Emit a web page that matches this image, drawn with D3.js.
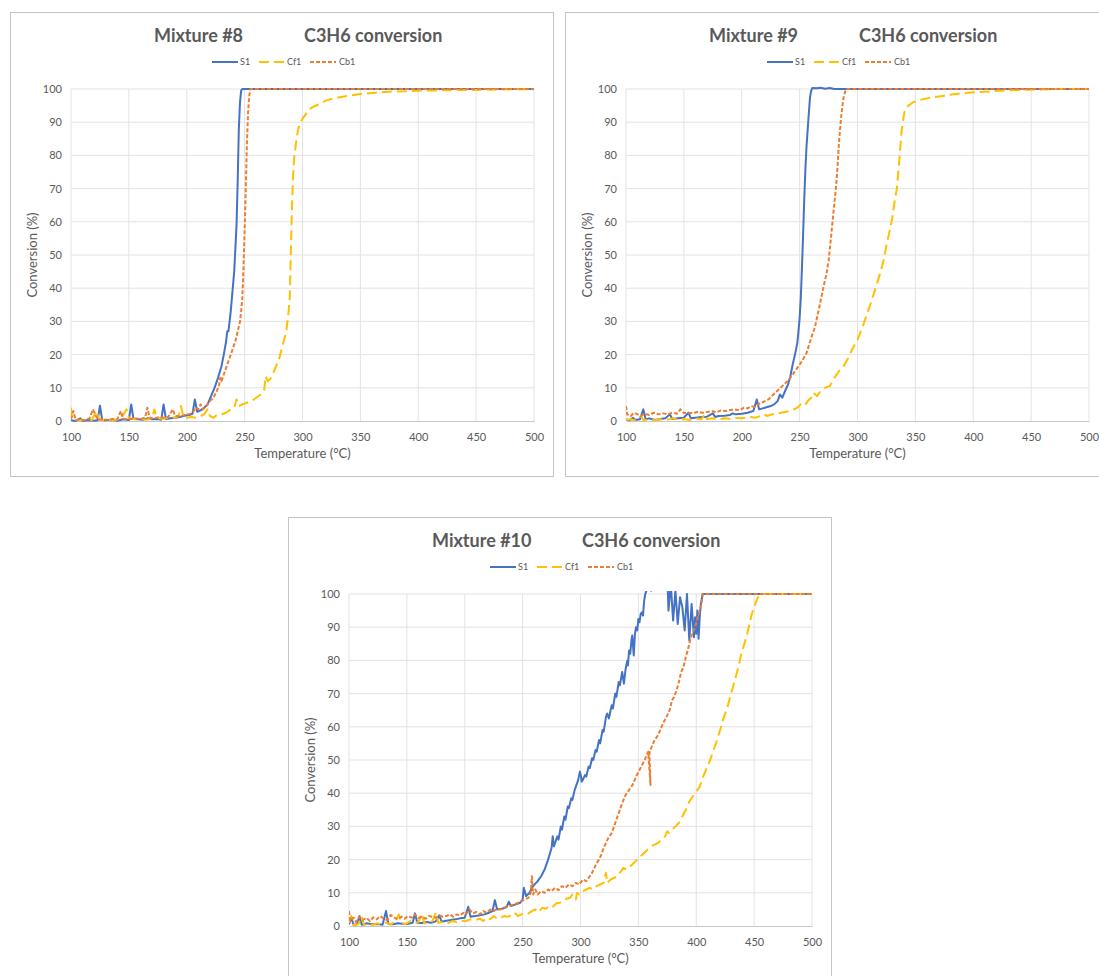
<!DOCTYPE html>
<html>
<head>
<meta charset="utf-8">
<script src="https://cdn.jsdelivr.net/npm/d3@7"></script>
<style>
    body { margin: 0; background: #fff; }
    svg { display: block; font-family: Lato, 'Open Sans', sans-serif; }
</style>
</head>
<body>
<svg id="chart" width="1099" height="976"></svg>
<script>

// axis ticks shared by the three panels
const temperatureTicks = [100, 150, 200, 250, 300, 350, 400, 450, 500]
const conversionTicks = [0, 10, 20, 30, 40, 50, 60, 70, 80, 90, 100]
const seriesNames = ['S1', 'Cf1', 'Cb1']
const mixtureNames = ['Mixture #8', 'Mixture #9', 'Mixture #10']

// Mixture #8 : [temperature °C, conversion %]
const m8S1 = [[100,0.2],[104,0],[108,0.8],[110,0],[115,0.3],[120,0.1],[123,0.2],[125,4.6],[127,0.3],[130,0.2],[135,0.4],[140,0.1],[145,0.5],[150,0.3],[152,5],[154,0.6],[158,0.5],[162,0.4],[166,0.8],[170,0.5],[175,0.6],[178,0.4],[180,5],[182,0.6],[186,0.8],[190,1],[194,1.2],[198,1.6],[202,1.8],[205,2.2],[207,6.5],[209,2.8],[212,3.2],[215,4],[218,5],[221,7.5],[224,10],[227,13],[230,16.5],[232,20],[234,24],[235,27],[236,27],[237,30],[238,33],[239,37],[240,41],[241,45],[242,52],[243,59],[244,72],[245,88],[246,96],[247,99.5],[248,100],[500,100]]
const m8Cf1 = [[100,4],[101,0.5],[105,0.3],[110,0.2],[114,0.5],[118,0.3],[122,3],[124,0.8],[128,0.2],[133,0.4],[138,0.3],[143,0.6],[148,3.5],[150,0.8],[155,0.5],[160,0.6],[165,0.4],[170,0.8],[172,3.5],[174,1],[178,0.7],[182,0.8],[186,1.2],[190,1],[193,1.5],[195,4.5],[197,1.5],[200,1],[204,1.2],[208,1],[212,1.5],[215,2],[218,3.5],[220,1.5],[223,1],[226,1.8],[230,2],[234,2.5],[238,3.5],[241,4],[243,6.5],[245,4.5],[248,5],[252,5.5],[256,6],[260,7],[264,8],[267,9.5],[268,13.5],[270,12],[273,13],[276,15.5],[280,19],[283,23],[286,27],[288,33],[289,37],[290,52],[291,66],[292,75],[293,80],[294.5,84],[296,87.5],[297.5,89.5],[300,91],[303,92.5],[306,94],[310,94.8],[315,95.5],[320,96.5],[325,97],[332,97.5],[340,98],[350,98.5],[360,98.8],[375,99.2],[390,99.3],[400,99.5],[420,99.6],[440,99.7],[460,99.8],[480,99.9],[500,99.9]]
const m8Cb1 = [[100,0.5],[102,3],[104,0.3],[108,0.5],[112,0.2],[116,0.8],[119,3.5],[121,2],[123,0.4],[128,0.5],[132,0.3],[136,0.6],[140,0.5],[143,3],[145,0.7],[150,0.5],[155,0.8],[160,0.6],[164,1],[166,4],[168,1],[172,0.8],[176,1.2],[180,1],[184,1.2],[188,3.5],[190,1.5],[194,1.4],[198,1.8],[202,2],[205,2.5],[208,4],[210,3.5],[212,5],[214,3.5],[217,4.5],[220,6],[223,7],[226,9],[228,11],[229,13],[230,12],[233,15],[236,18],[239,21],[242,24],[244,27],[246,30],[247,33],[248,37],[249,46],[250,57],[251,70],[252,84],[253,93],[254,98],[255,100],[500,100]]

// Mixture #9
const m9S1 = [[100,0.5],[103,0.2],[106,1],[108,0.3],[112,0.5],[115,3.5],[117,0.5],[120,0.8],[125,0.3],[130,0.6],[134,0.8],[138,2],[140,0.6],[145,0.8],[150,1],[154,2.5],[156,0.8],[160,1],[165,1.2],[170,1.3],[175,2.3],[177,1.2],[180,1.5],[185,1.6],[190,1.8],[192,2.3],[195,2],[200,2.2],[205,2.5],[210,3],[213,6.5],[215,3.5],[220,4],[225,4.5],[228,5],[231,6],[233,8],[235,7],[238,9.5],[240,11],[242,13.5],[244,17],[246,20],[248,23.5],[249,27],[250,31],[251,37],[252,46],[253,56],[254,67],[255,76],[256,83],[257,88],[258,93],[259,97.5],[260,99.5],[261,100.3],[265,100.2],[268,100.4],[272,100.1],[276,100.3],[280,100],[500,100]]
const m9Cf1 = [[100,0.3],[104,0.5],[108,0.2],[113,1.5],[115,0.3],[120,0.4],[125,0.2],[130,0.5],[135,0.3],[140,0.8],[145,0.4],[150,0.6],[155,0.3],[160,0.8],[165,0.5],[168,2],[170,0.6],[175,0.8],[180,0.5],[185,0.8],[190,0.6],[195,0.9],[200,0.8],[204,1],[208,1.2],[212,1],[216,1.5],[219,2],[222,1.5],[226,2],[230,2.2],[234,2.5],[238,2.8],[242,3],[245,3.5],[248,4],[251,5],[254,4.5],[257,6],[260,7],[262,8.5],[265,7.5],[268,9],[272,10],[276,10.5],[280,13],[284,15],[288,16.5],[292,19],[296,22],[300,24.5],[304,28],[308,32],[312,36],[316,40.5],[320,45],[323,49],[325,53],[327,56],[330,61],[332,66],[334,70],[336,78],[338,87],[340,92],[341,93.7],[344,95],[348,96],[355,96.8],[365,97.5],[375,98],[385,98.5],[400,99],[415,99.3],[430,99.6],[450,99.8],[470,100],[500,100]]
const m9Cb1 = [[100,4.5],[101,2],[104,1.5],[107,2.5],[110,2],[113,1.5],[116,2.2],[120,1.8],[124,2.5],[128,2],[132,2.3],[136,2],[140,2.5],[144,2.2],[147,3.5],[150,2.4],[154,2.5],[158,2.3],[162,2.8],[166,2.5],[170,2.7],[174,3],[178,2.6],[182,3.2],[186,3],[190,3.3],[194,3.5],[198,3.2],[202,4],[205,3.8],[208,4.5],[211,4.2],[214,5],[217,5.5],[220,6],[223,6.5],[226,7.5],[229,8.5],[232,9.5],[235,10.5],[238,11.5],[241,12.5],[244,14],[248,16],[252,18],[256,20.5],[260,25],[263,28],[265,31],[268,36],[271,41],[273,44],[275,48],[277,55],[279,62],[281,69],[282,73],[283,78],[284,84],[285,88],[286,92],[287,95],[288,97.5],[290,100],[500,100]]

// Mixture #10
const m10S1 = [[100,0.5],[102,2.5],[104,0.3],[107,0.5],[109,3],[111,0.4],[115,0.8],[120,0.5],[125,0.6],[129,0.4],[132,4.5],[134,0.6],[138,0.5],[142,0.8],[146,0.7],[150,0.6],[155,1],[157,3.8],[159,1],[163,0.9],[167,1.2],[171,1],[175,1.4],[178,3.2],[180,1.3],[184,1.6],[188,1.8],[192,2],[196,2.3],[200,2.5],[203,5.8],[205,2.8],[209,3],[213,3.2],[217,3.5],[221,4],[224,4.5],[226,7.8],[228,5],[232,5.2],[236,5.6],[238,7.3],[240,6],[244,6.5],[248,7],[250,8],[251,11.5],[253,9],[256,10],[259,12],[263,13.5],[266,15],[269,17],[272,20],[275,23.5],[276,27],[277,24],[279,26],[280,27],[281,26],[283,30],[284,29],[286,33],[287,32],[289,36],[290,35.5],[292,38.5],[293,38],[295,41],[296,42],[298,44],[299.5,46.5],[300.5,45],[301,43.5],[302,44],[304,45.5],[305,45],[307,48],[308,47.5],[310,50.5],[311,50],[313,53],[314,52.5],[316,56],[317,55],[319,59],[320,58.5],[322,63],[323,64],[324.5,62.5],[326,65],[327,66.5],[328,65.5],[330,70],[331,69],[333,73.5],[334,72.5],[336,76.5],[337.5,73],[339,77.5],[340.5,80],[341,78.5],[342,83],[343,82],[344,86],[344.7,87.5],[346,81.5],[347,88],[348,90],[349,89],[350,92.5],[351,91.5],[352,94],[353,94.5],[354,93.5],[355,98],[356,100],[358,102],[360,104],[361,101],[362,106],[365,108],[370,110],[375,106],[376,95],[378,103],[380,92],[382,101],[384,91],[386,99],[388,96],[390,89],[392,100],[394,86],[396,97],[398,87],[399,93],[400,88],[401,95],[402,86.5],[403,93],[404,97],[405.5,100],[500,100]]
const m10Cf1 = [[100,1],[102,3],[104,0.2],[108,0.5],[111,2.8],[113,0.3],[117,0.6],[120,0.3],[124,0.8],[128,0.5],[132,1],[136,0.4],[140,1.5],[143,3.5],[145,0.8],[149,0.6],[153,1.5],[156,0.8],[160,1.2],[163,3.8],[165,0.8],[169,1],[172,1.5],[175,4],[177,1],[181,1.2],[185,0.8],[189,1.5],[193,1.2],[197,1.6],[201,1.5],[205,2],[209,1.8],[213,2.2],[216,1.5],[219,2.5],[222,2],[225,3],[228,2.2],[231,2.5],[234,3],[237,2.8],[240,3.2],[243,4],[246,3],[249,3.5],[252,4],[255,3.8],[258,4.5],[261,5],[264,4.2],[267,5.5],[270,5.2],[273,6],[276,5.8],[279,6.8],[282,7],[285,7.5],[288,8.2],[291,8.5],[293,9.5],[296,8],[297,10],[299,9.5],[302,10.5],[305,11],[308,11.5],[311,11],[314,12],[317,12.5],[320,13],[322,16],[323,13],[326,14],[329,14.5],[332,15],[335,16.5],[337,17.5],[340,17],[343,18],[346,19],[349,20],[352,21],[355,22],[358,23],[361,24],[364,24.5],[367,25],[370,26],[373,27],[375,28.5],[376.5,28],[379,29],[382,30],[385,31],[388,33],[391,35],[394,37.5],[397,39],[400,40.5],[403,42],[406,45],[409,47.5],[412,50],[415,53],[418,56],[421,59.5],[424,63],[427,66],[430,70],[433,73.5],[436,77.5],[439,82],[442,85.5],[444,88],[446,91],[448,94],[450,96],[452,98],[455,100],[500,100]]
const m10Cb1 = [[100,4.5],[101,1.5],[104,2.5],[106,1.2],[109,2.8],[112,1.8],[115,2.5],[118,1.5],[121,2.6],[124,2],[127,3],[130,2.2],[133,1.8],[136,3.3],[139,2.5],[142,2],[145,2.8],[148,2.2],[151,3],[154,2.5],[157,3.5],[160,2.4],[163,2.8],[166,2.2],[169,3],[172,2.8],[175,2.5],[178,3.2],[181,2.8],[184,3],[187,3.5],[190,2.8],[193,3.5],[196,3.2],[199,4],[201,3.5],[204,5],[207,3.8],[210,4.2],[213,3.5],[216,4.5],[219,4],[222,5],[225,4.5],[228,5.2],[231,5],[234,5.5],[237,6],[240,6.2],[243,6.5],[246,7],[249,7.5],[252,8],[255,8.5],[257,10],[258,15],[259,9.5],[261,11],[263,9.5],[266,10.5],[269,10],[272,11],[275,10.5],[278,11.5],[281,10.8],[284,12],[287,11.5],[290,12.5],[293,12],[296,13],[299,12.5],[302,14],[305,13.5],[308,15],[310,16],[312,17.5],[314,19],[316,20],[318,21.5],[320,23.5],[322,25],[324,26.5],[327,28],[330,31],[333,34],[336,37],[339,39.5],[342,41],[345,42.5],[348,45],[351,47],[354,49],[356,50.5],[358.5,52.5],[360.5,42.5],[359.5,52],[361.5,54],[364,56],[367,57.5],[370,60],[372,61.5],[375,63.5],[377,65],[379,68],[381,69],[383,71],[385,73.5],[387,76.5],[389,78],[391,81],[393,83.5],[395,86.5],[397,88.5],[399,90],[401,92.5],[403,95],[404.5,97],[405.5,100],[500,100]]

const mixtureSeries = [
    [m8S1, m8Cf1, m8Cb1],
    [m9S1, m9Cf1, m9Cb1],
    [m10S1, m10Cf1, m10Cb1]
]

class Panel {
    constructor(svg, index, left, top) {
        this.width = 543
        this.height = 464
        this.plot = { left: 61, right: 524, top: 77, bottom: 409 }
        this.textColor = '#595959'
        this.gridColor = '#e3e3e3'

        this.index = index
        this.series = mixtureSeries[index]
        this.g = svg.append('g').attr('transform', `translate(${left}, ${top})`)

        this.x = d3.scaleLinear().domain([100, 500]).range([this.plot.left, this.plot.right])
        this.y = d3.scaleLinear().domain([0, 100]).range([this.plot.bottom, this.plot.top])

        this.styles = [
            { color: '#4472c4', dash: null },
            { color: '#ffc000', dash: '10,5' },
            { color: '#ed7d31', dash: '4,2' }
        ]
    }

    draw() {
        let g = this.g

        g.append('rect')
            .attr('x', 0.5).attr('y', 0.5)
            .attr('width', this.width).attr('height', this.height)
            .attr('fill', '#fff')
            .attr('stroke', '#c4c4c4')

        // title
        g.append('text')
            .attr('x', 144).attr('y', 30)
            .attr('font-size', '18px').attr('font-weight', 'bold')
            .attr('fill', this.textColor)
            .text(mixtureNames[this.index])

        g.append('text')
            .attr('x', 294).attr('y', 30)
            .attr('font-size', '18px').attr('font-weight', 'bold')
            .attr('fill', this.textColor)
            .text('C3H6 conversion')

        this.drawLegend()
        this.drawAxes()
        this.drawLines()
    }

    drawLegend() {
        let items = [
            { line: 202, text: 230 },
            { line: 249, text: 277 },
            { line: 300, text: 329 }
        ]
        let legend = this.g.append('g').attr('transform', 'translate(0, 50)')

        legend.selectAll('g')
            .data(seriesNames)
            .join('g')
            .call(g => g.append('line')
                .attr('x1', (d, i) => items[i].line)
                .attr('x2', (d, i) => items[i].line + 26)
                .attr('stroke', (d, i) => this.styles[i].color)
                .attr('stroke-width', 2)
                .attr('stroke-dasharray', (d, i) => this.styles[i].dash))
            .call(g => g.append('text')
                .attr('x', (d, i) => items[i].text)
                .attr('y', 3)
                .attr('font-size', '9px')
                .attr('fill', this.textColor)
                .text(d => d))
    }

    drawAxes() {
        let g = this.g

        // gridlines
        g.append('g')
            .selectAll('line')
            .data(conversionTicks.filter(d => d > 0))
            .join('line')
            .attr('x1', this.plot.left).attr('x2', this.plot.right)
            .attr('y1', d => this.y(d)).attr('y2', d => this.y(d))
            .attr('stroke', this.gridColor)

        g.append('g')
            .selectAll('line')
            .data(temperatureTicks)
            .join('line')
            .attr('x1', d => this.x(d)).attr('x2', d => this.x(d))
            .attr('y1', this.plot.top).attr('y2', this.plot.bottom)
            .attr('stroke', this.gridColor)

        let xAxis = g.append('g')
            .attr('transform', `translate(0, ${this.plot.bottom})`)
            .call(d3.axisBottom(this.x).tickValues(temperatureTicks).tickSize(0).tickPadding(12))
        xAxis.select('.domain').attr('stroke', '#c8c8c8')

        let yAxis = g.append('g')
            .attr('transform', `translate(${this.plot.left}, 0)`)
            .call(d3.axisLeft(this.y).tickValues(conversionTicks).tickSize(0).tickPadding(9))
        yAxis.select('.domain').remove()

        g.selectAll('.tick text')
            .attr('font-family', 'Lato, sans-serif')
            .attr('font-size', '11px')
            .attr('fill', this.textColor)

        g.append('text')
            .attr('x', (this.plot.left + this.plot.right) / 2)
            .attr('y', 446)
            .attr('text-anchor', 'middle')
            .attr('font-size', '13px')
            .attr('fill', this.textColor)
            .text('Temperature (°C)')

        g.append('text')
            .attr('transform', `translate(27, ${(this.plot.top + this.plot.bottom) / 2}) rotate(-90)`)
            .attr('text-anchor', 'middle')
            .attr('font-size', '13px')
            .attr('fill', this.textColor)
            .text('Conversion (%)')
    }

    drawLines() {
        let clipId = `clip-${this.index}`
        this.g.append('clipPath')
            .attr('id', clipId)
            .append('rect')
            .attr('x', this.plot.left)
            .attr('y', this.plot.top - 3)
            .attr('width', this.plot.right - this.plot.left)
            .attr('height', this.plot.bottom - this.plot.top + 5)

        let line = d3.line()
            .x(d => this.x(d[0]))
            .y(d => this.y(d[1]))

        this.g.append('g')
            .attr('clip-path', `url(#${clipId})`)
            .selectAll('path')
            .data(this.series)
            .join('path')
            .attr('d', line)
            .attr('fill', 'none')
            .attr('stroke', (d, i) => this.styles[i].color)
            .attr('stroke-width', 2)
            .attr('stroke-linejoin', 'round')
            .attr('stroke-dasharray', (d, i) => this.styles[i].dash)
    }
}

let svg = d3.select('#chart')

new Panel(svg, 0, 10, 12).draw()
new Panel(svg, 1, 565, 12).draw()
new Panel(svg, 2, 288, 517).draw()

</script>
</body>
</html>
